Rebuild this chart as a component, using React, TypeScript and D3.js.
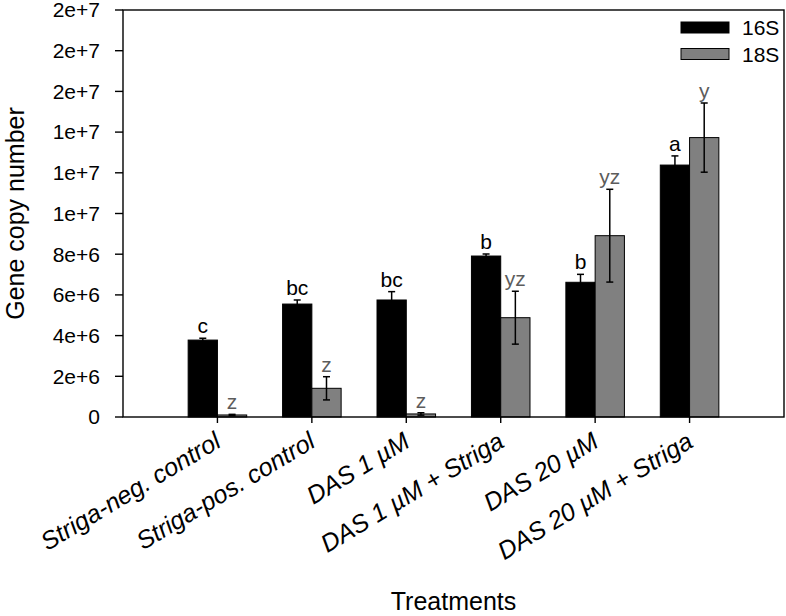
import React from "react";
import * as d3 from "d3";

const categories = [
  "Striga-neg. control",
  "Striga-pos. control",
  "DAS 1 µM",
  "DAS 1 µM + Striga",
  "DAS 20 µM",
  "DAS 20 µM + Striga",
];
const values16S = [3.78e6, 5.55e6, 5.75e6, 7.91e6, 6.62e6, 12.38e6];
const errors16S = [0.09e6, 0.2e6, 0.41e6, 0.1e6, 0.39e6, 0.45e6];
const values18S = [0.1e6, 1.41e6, 0.15e6, 4.88e6, 8.91e6, 13.73e6];
const errors18S = [0.03e6, 0.57e6, 0.06e6, 1.3e6, 2.28e6, 1.7e6];
const letters16S = ["c", "bc", "bc", "b", "b", "a"];
const letters18S = ["z", "z", "z", "yz", "yz", "y"];
const yTickValues = [0, 2e6, 4e6, 6e6, 8e6, 1e7, 1.2e7, 1.4e7, 1.6e7, 1.8e7, 2e7];
const yTickLabels = ["0", "2e+6", "4e+6", "6e+6", "8e+6", "1e+7", "1e+7", "1e+7", "2e+7", "2e+7", "2e+7"];
const seriesNames = ["16S", "18S"];

const W = 786;
const H = 616;
const L = 123;
const R = 784;
const T = 10;
const B = 417;
const FONT = "'Liberation Sans', Arial, sans-serif";
const BLACK = "#000000";
const GRAY = "#808080";
const GRAY_TEXT = "#5c5c5c";

export default function App() {
  const x = d3.scaleLinear().domain([0, categories.length + 1]).range([L, R]);
  const y = d3.scaleLinear().domain([0, 2e7]).range([B, T]);
  const barW = x(0.31) - x(0);
  const cap = 3.5;

  const series = [
    { name: seriesNames[0], vals: values16S, errs: errors16S, letters: letters16S, fill: BLACK, text: BLACK, off: -1 },
    { name: seriesNames[1], vals: values18S, errs: errors18S, letters: letters18S, fill: GRAY, text: GRAY_TEXT, off: 0 },
  ];

  return (
    <svg width={W} height={H} style={{ position: "absolute", left: 0, top: 0 }} fontFamily={FONT}>
      <rect x={0} y={0} width={W} height={H} fill="#fff" />
      {series.map((s) =>
        s.vals.map((v, i) => {
          const cx = x(i + 1);
          const bx = cx + s.off * barW;
          return (
            <rect key={s.name + i} x={bx} y={y(v)} width={barW} height={B - y(v)} fill={s.fill} stroke="#000" strokeWidth={1} />
          );
        })
      )}
      {series.map((s) =>
        s.vals.map((v, i) => {
          const mx = x(i + 1) + s.off * barW + barW / 2;
          const hi = y(v + s.errs[i]);
          const lo = y(Math.max(0, v - s.errs[i]));
          return (
            <g key={"e" + s.name + i} stroke="#000" strokeWidth={1.5}>
              <line x1={mx} x2={mx} y1={hi} y2={lo} />
              <line x1={mx - cap} x2={mx + cap} y1={hi} y2={hi} />
              <line x1={mx - cap} x2={mx + cap} y1={lo} y2={lo} />
            </g>
          );
        })
      )}
      {series.map((s) =>
        s.vals.map((v, i) => {
          const mx = x(i + 1) + s.off * barW + barW / 2;
          return (
            <text key={"l" + s.name + i} x={mx} y={y(v + s.errs[i]) - 5} textAnchor="middle" fontSize={21} fill={s.text}>
              {s.letters[i]}
            </text>
          );
        })
      )}
      <rect x={L} y={T} width={R - L} height={B - T} fill="none" stroke="#000" strokeWidth={1.4} />
      {yTickValues.map((t, i) => (
        <g key={"yt" + i}>
          <line x1={L - 8} x2={L} y1={y(t)} y2={y(t)} stroke="#000" strokeWidth={1.4} />
          <text x={100} y={y(t)} dy="0.35em" textAnchor="end" fontSize={21} fill="#000">
            {yTickLabels[i]}
          </text>
        </g>
      ))}
      {categories.map((c, i) => (
        <g key={"xt" + i}>
          <line x1={x(i + 1)} x2={x(i + 1)} y1={B} y2={B + 6} stroke="#000" strokeWidth={1.4} />
          <text
            transform={`translate(${x(i + 1) + 5},${B + 29}) rotate(-31)`}
            textAnchor="end"
            fontSize={25}
            fontStyle="italic"
            fill="#000"
          >
            {c}
          </text>
        </g>
      ))}
      <text transform={`translate(24,${(T + B) / 2}) rotate(-90)`} textAnchor="middle" fontSize={25} fill="#000">
        Gene copy number
      </text>
      <text x={(L + R) / 2} y={610} textAnchor="middle" fontSize={25} fill="#000">
        Treatments
      </text>
      {series.map((s, i) => (
        <g key={"lg" + i}>
          <rect x={681} y={22 + i * 26.5} width={48} height={11} fill={s.fill} stroke="#000" strokeWidth={1} />
          <text x={742} y={35 + i * 27} fontSize={21} fill="#000">
            {s.name}
          </text>
        </g>
      ))}
    </svg>
  );
}
